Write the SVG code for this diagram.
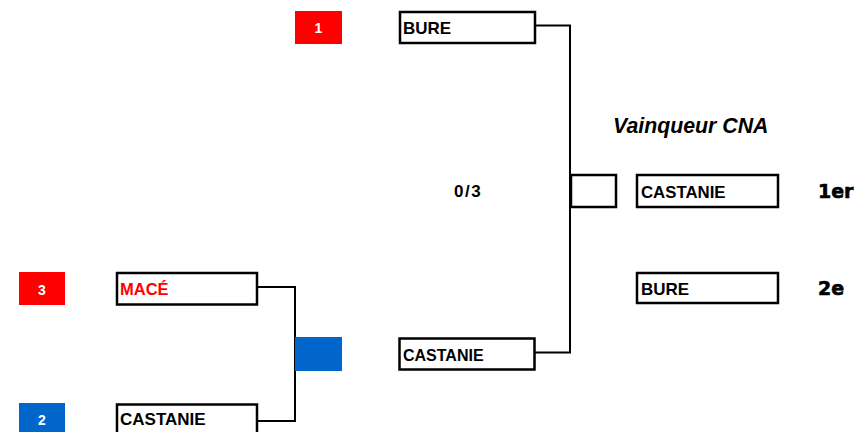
<svg xmlns="http://www.w3.org/2000/svg" width="867" height="432" viewBox="0 0 867 432">
<style>
.box{fill:#fff;stroke:#000;stroke-width:2.5}
.lbl{font-family:"Liberation Sans",Arial,sans-serif;font-weight:bold;font-size:17px;fill:#000}
.seed{font-family:"Liberation Sans",Arial,sans-serif;font-weight:bold;font-size:14px;fill:#fff;text-anchor:middle}
.red{fill:#ff0000}
.blue{fill:#0066cc}
.conn{fill:none;stroke:#000;stroke-width:2}
.place{font-family:"DejaVu Sans","Liberation Sans",sans-serif;font-weight:bold;font-size:19px;fill:#000;stroke:#000;stroke-width:0.6}
</style>
<rect width="867" height="432" fill="#fff"/>
<g id="connectors">
<polyline class="conn" points="535,25.5 570,25.5 570,352.5 535,352.5"/>
<polyline class="conn" points="253,287 295,287 295,421 253,421"/>
</g>
<g id="seed1"><rect class="red" x="295" y="11" width="47" height="33"/><text class="seed" x="318.5" y="33">1</text></g>
<g id="seed3"><rect class="red" x="19" y="272" width="46" height="33"/><text class="seed" x="42" y="295">3</text></g>
<g id="seed2"><rect class="blue" x="19" y="403" width="46" height="33"/><text class="seed" x="42" y="425">2</text></g>
<g id="winner-mark"><rect class="blue" x="295" y="337" width="47" height="34"/></g>
<g id="bure-top"><rect class="box" x="400" y="12" width="135" height="31"/><text class="lbl" x="403" y="34">BURE</text></g>
<g id="mace"><rect class="box" x="117" y="273" width="140" height="31.5"/><text class="lbl" x="120" y="294.5" style="fill:#ff0000;font-size:16.5px">MACÉ</text></g>
<g id="castanie-bottom"><rect class="box" x="117" y="404.5" width="140" height="40"/><text class="lbl" x="120" y="424.5">CASTANIE</text></g>
<g id="castanie-mid"><rect class="box" x="399.5" y="338.5" width="135" height="31"/><text class="lbl" x="403" y="361" style="font-size:16px">CASTANIE</text></g>
<g id="score-box"><rect class="box" x="571" y="175" width="45" height="32"/></g>
<g id="score"><text class="lbl" x="454" y="197" style="letter-spacing:1.5px">0/3</text></g>
<g id="title"><text x="613" y="133" style="font-family:'Liberation Sans',Arial,sans-serif;font-weight:bold;font-style:italic;font-size:21.3px">Vainqueur CNA</text></g>
<g id="final-castanie"><rect class="box" x="637" y="175" width="141" height="32"/><text class="lbl" x="641" y="197.5" style="font-size:16.8px">CASTANIE</text><text class="place" x="818" y="198">1er</text></g>
<g id="final-bure"><rect class="box" x="637" y="273" width="141" height="30"/><text class="lbl" x="641" y="295">BURE</text><text class="place" x="818" y="295">2e</text></g>
</svg>
